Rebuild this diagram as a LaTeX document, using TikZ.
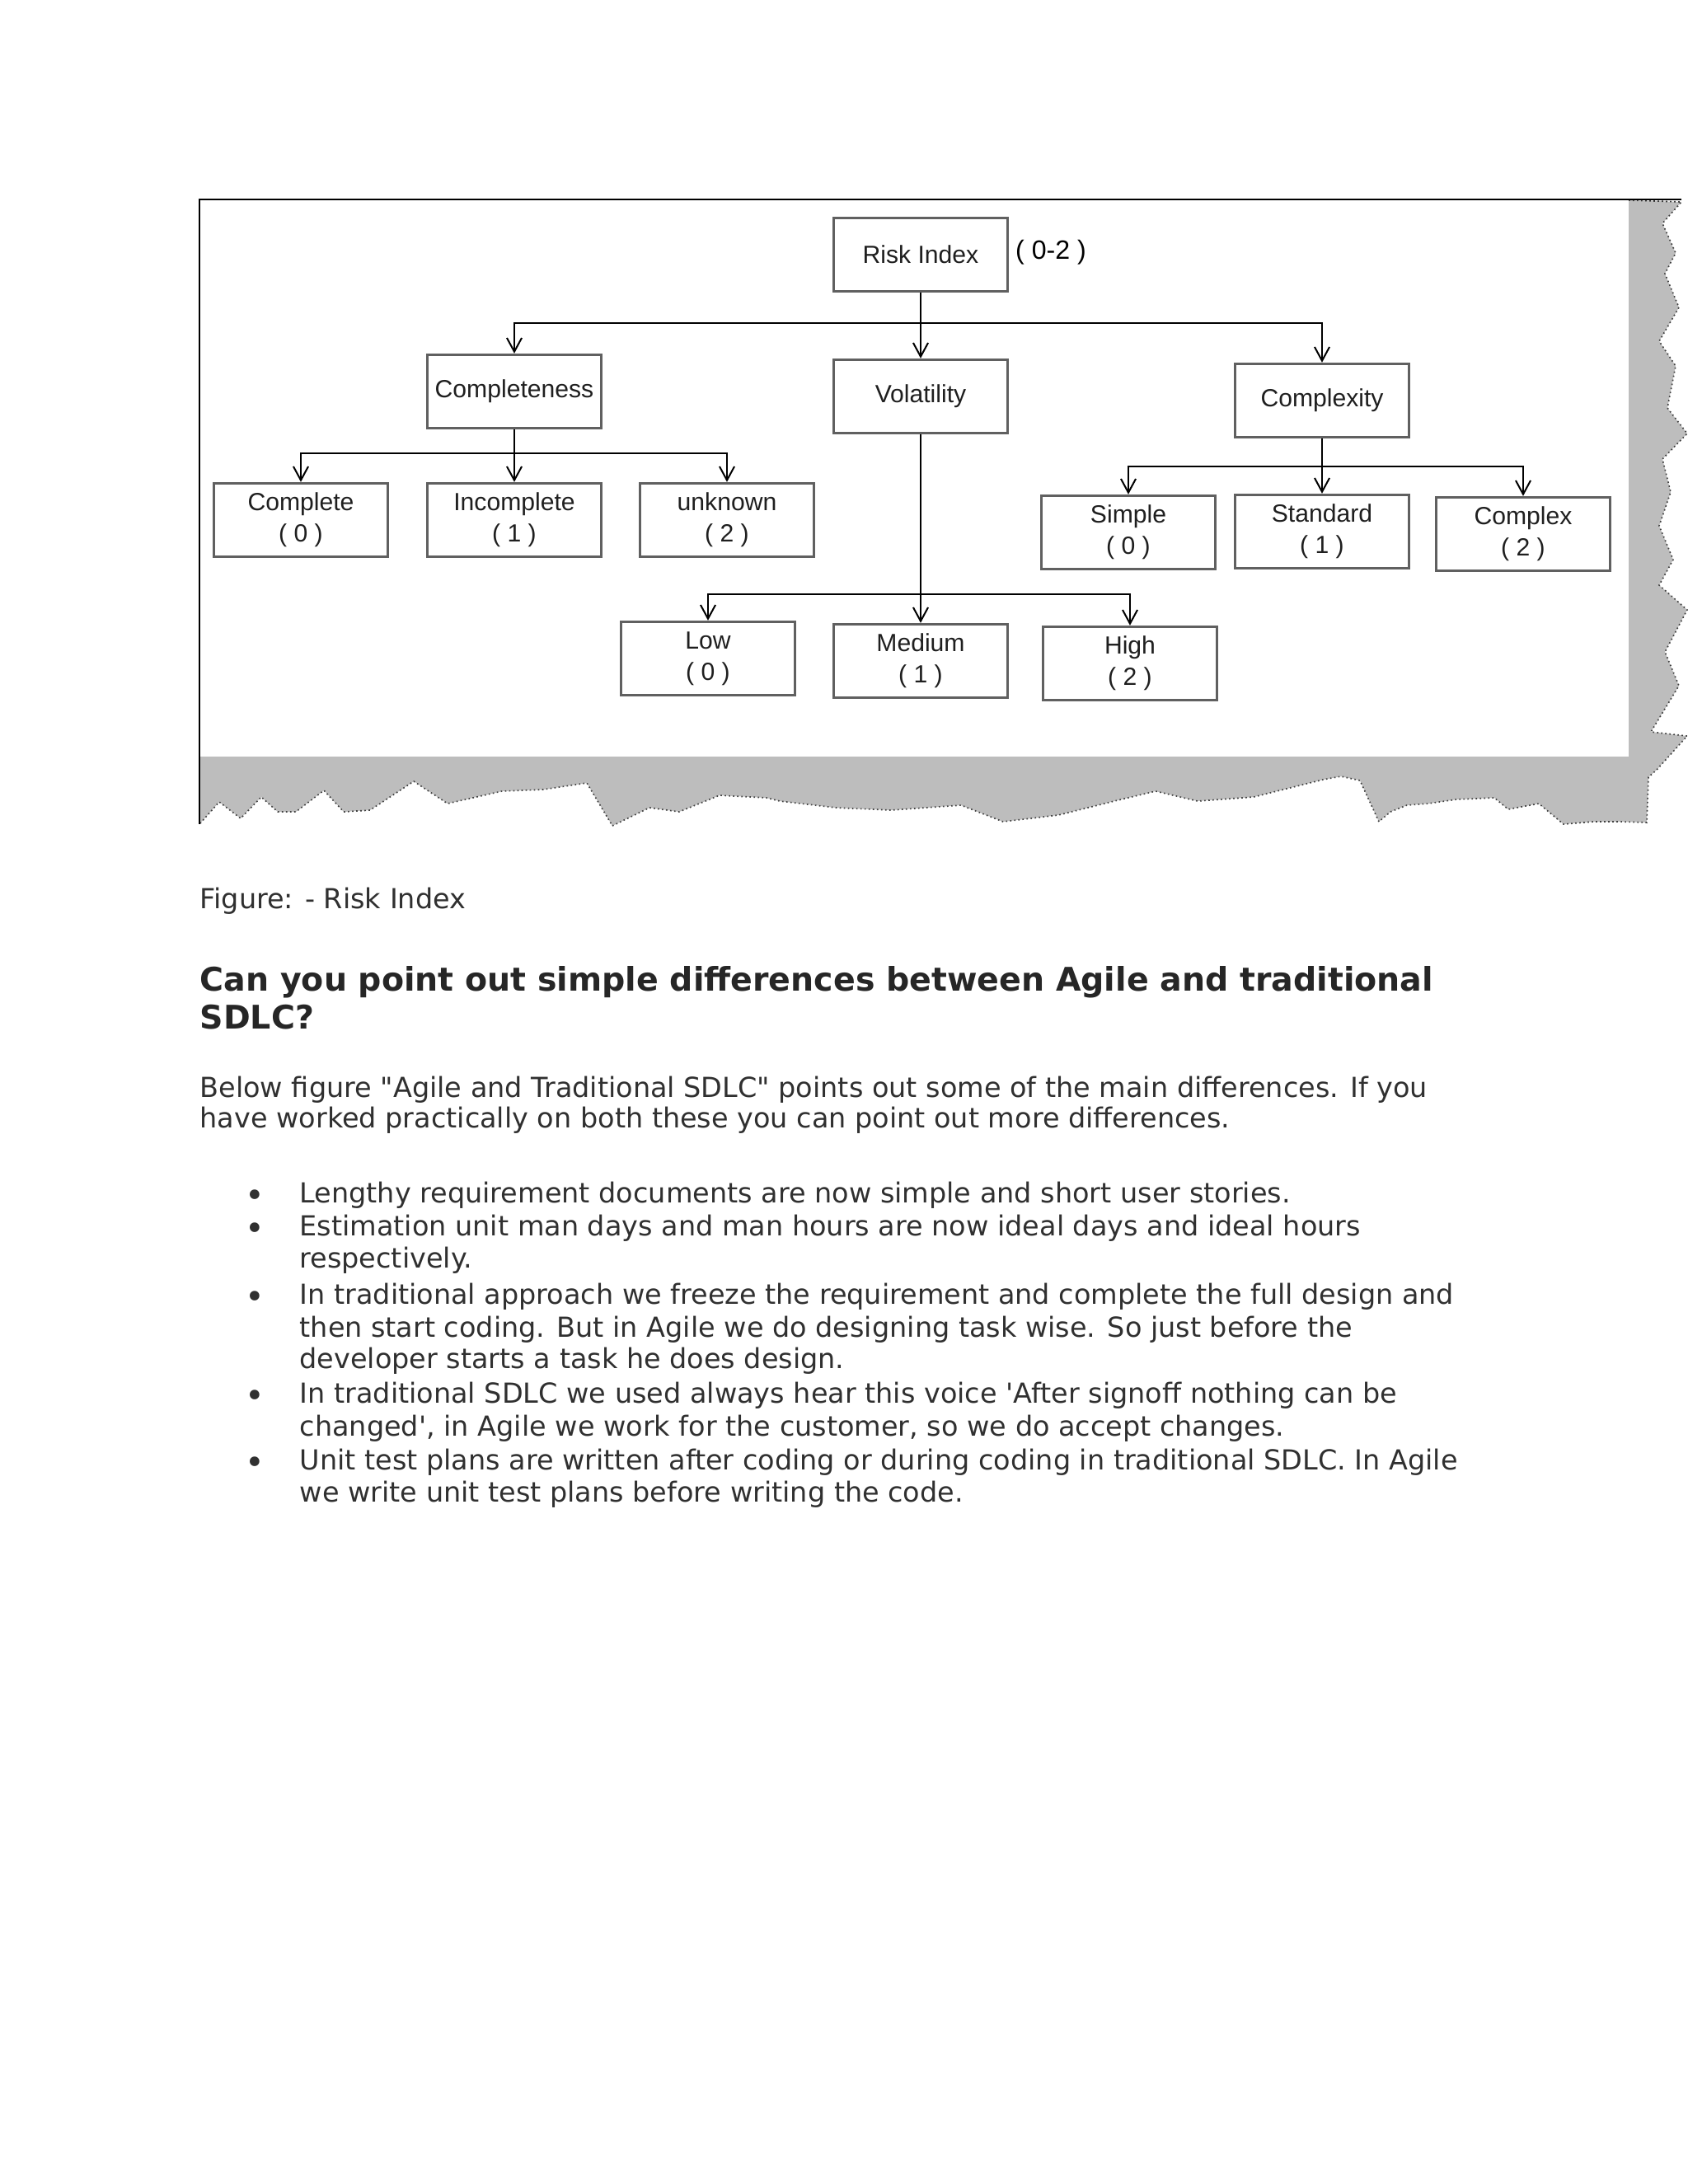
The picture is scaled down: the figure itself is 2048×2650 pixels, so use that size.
\documentclass[tikz,border=0pt]{standalone}
\usepackage{fontspec}
\setmainfont{DejaVu Sans}
\newfontfamily\chartfont{Liberation Sans}
\usetikzlibrary{arrows.meta,positioning}
\definecolor{boxedge}{HTML}{606060}
\definecolor{tornfill}{HTML}{BDBDBD}
\definecolor{bodyink}{HTML}{303030}
\tikzset{
  riskbox/.style={draw=boxedge, line width=1pt, fill=white, minimum width=63pt,
    minimum height=26.6pt, inner sep=0pt, align=center, text=black!88,
    font=\chartfont\fontsize{9}{11.4}\selectfont},
  feed/.style={line width=0.6pt, -{Straight Barb[length=5pt,width=5.4pt]}},
  bodyline/.style={anchor=base west, inner sep=0pt, text=bodyink,
    font=\fontsize{10}{12}\selectfont},
}

\begin{document}
\begin{tikzpicture}[x=0.29883pt,y=-0.29883pt]
  \useasboundingbox (0,0) rectangle (2048,2650);
  \fill[white] (0,0) rectangle (2048,2650);
  % --- torn shadow round the screenshot ---
  \def\tornpath{(1976,243) -- (2040,245) -- (2017,271) -- (2033,307) -- (2020,332)
    -- (2037,373) -- (2013,414) -- (2033,444) -- (2023,495) -- (2047,526)
    -- (2017,557) -- (2027,597) -- (2013,638) -- (2030,679) -- (2013,710)
    -- (2047,740) -- (2020,791) -- (2037,832) -- (2003,888) -- (2047,893)
    -- (2010,934) -- (2000,943) -- (1998,998) -- (1967,997) -- (1933,997)
    -- (1897,1000) -- (1867,975) -- (1830,982) -- (1813,968) -- (1767,970)
    -- (1733,975) -- (1707,977) -- (1687,985) -- (1673,997) -- (1650,947)
    -- (1627,942) -- (1605,946) -- (1521,967) -- (1453,972) -- (1402,960)
    -- (1352,972) -- (1284,989) -- (1217,997) -- (1166,977) -- (1081,983)
    -- (1014,980) -- (946,972) -- (930,968) -- (873,965) -- (824,985)
    -- (788,980) -- (743,1002) -- (712,950) -- (659,958) -- (609,960)
    -- (565,970) -- (543,975) -- (502,948) -- (449,983) -- (417,985)
    -- (393,959) -- (359,985) -- (337,985) -- (317,967) -- (292,993)
    -- (266,973) -- (242,1000)}
  \fill[tornfill] \tornpath -- (242,918) -- (1976,918) -- cycle;
  \draw[black!75, densely dotted, line width=0.5pt] \tornpath;
  \fill[white] (242,242) rectangle (1976,918);
  \draw[line width=0.6pt] (2040,242) -- (242,242) -- (242,1000);
  % --- index and its three factors ---
  \node[riskbox] (risk) at (1117,309) {Risk Index};
  \node[inner sep=0pt, font=\chartfont\fontsize{9.6}{11}\selectfont] (range) at (1275,306) {( 0-2 )};
  \node[riskbox] (completeness) at (624,475) {Completeness};
  \node[riskbox] (volatility) at (1117,481) {Volatility};
  \node[riskbox] (complexity) at (1604,486) {Complexity};
  % --- values ---
  \node[riskbox] (complete) at (365,631) {Complete\\( 0 )};
  \node[riskbox] (incomplete) at (624,631) {Incomplete\\( 1 )};
  \node[riskbox] (unknown) at (882,631) {unknown\\( 2 )};
  \node[riskbox] (low) at (859,799) {Low\\( 0 )};
  \node[riskbox] (medium) at (1117,802) {Medium\\( 1 )};
  \node[riskbox] (high) at (1371,805) {High\\( 2 )};
  \node[riskbox] (simple) at (1369,646) {Simple\\( 0 )};
  \node[riskbox] (standard) at (1604,645) {Standard\\( 1 )};
  \node[riskbox] (complex) at (1848,648) {Complex\\( 2 )};
  % --- connectors ---
  \coordinate (split risk) at (1117,392);
  \coordinate (split left) at (624,550);
  \coordinate (split mid) at (1117,721);
  \coordinate (split right) at (1604,566);
  \draw[feed] (risk) -- (volatility);
  \draw[feed] (split risk) -| (completeness);
  \draw[feed] (split risk) -| (complexity);
  \draw[feed] (completeness) -- (incomplete);
  \draw[feed] (split left) -| (complete);
  \draw[feed] (split left) -| (unknown);
  \draw[feed] (volatility) -- (medium);
  \draw[feed] (split mid) -| (low);
  \draw[feed] (split mid) -| (high);
  \draw[feed] (complexity) -- (standard);
  \draw[feed] (split right) -| (simple);
  \draw[feed] (split right) -| (complex);
  % --- text below the figure ---
  \node[bodyline] (caption) at (242,1102) {Figure: - Risk Index};
  \node[bodyline, text=black!85, font=\bfseries\fontsize{11.8}{14}\selectfont] (question)
    at (242,1202) {Can you point out simple differences between Agile and traditional};
  \node[bodyline, text=black!85, font=\bfseries\fontsize{11.8}{14}\selectfont] (question2)
    at (242,1248) {SDLC?};
  \node[bodyline] (intro) at (242,1331)
    {Below figure \textquotedbl Agile and Traditional SDLC\textquotedbl{} points out some of the main differences. If you};
  \node[bodyline] (intro2) at (242,1368)
    {have worked practically on both these you can point out more differences.};
  \foreach \yy in {1459,1499,1582,1702,1783}
    \node[bodyline, anchor=base, font=\fontsize{12}{12}\selectfont] (dot\yy) at (309,\yy+5) {•};
  \foreach \yy/\txt in {
    1459/{Lengthy requirement documents are now simple and short user stories.},
    1499/{Estimation unit man days and man hours are now ideal days and ideal hours},
    1538/{respectively.},
    1582/{In traditional approach we freeze the requirement and complete the full design and},
    1622/{then start coding. But in Agile we do designing task wise. So just before the},
    1660/{developer starts a task he does design.},
    1702/{In traditional SDLC we used always hear this voice \textquotesingle After signoff nothing can be},
    1742/{changed\textquotesingle, in Agile we work for the customer, so we do accept changes.},
    1783/{Unit test plans are written after coding or during coding in traditional SDLC. In Agile},
    1822/{we write unit test plans before writing the code.}}
    \node[bodyline] (item\yy) at (363,\yy) {\txt};
\end{tikzpicture}
\end{document}
